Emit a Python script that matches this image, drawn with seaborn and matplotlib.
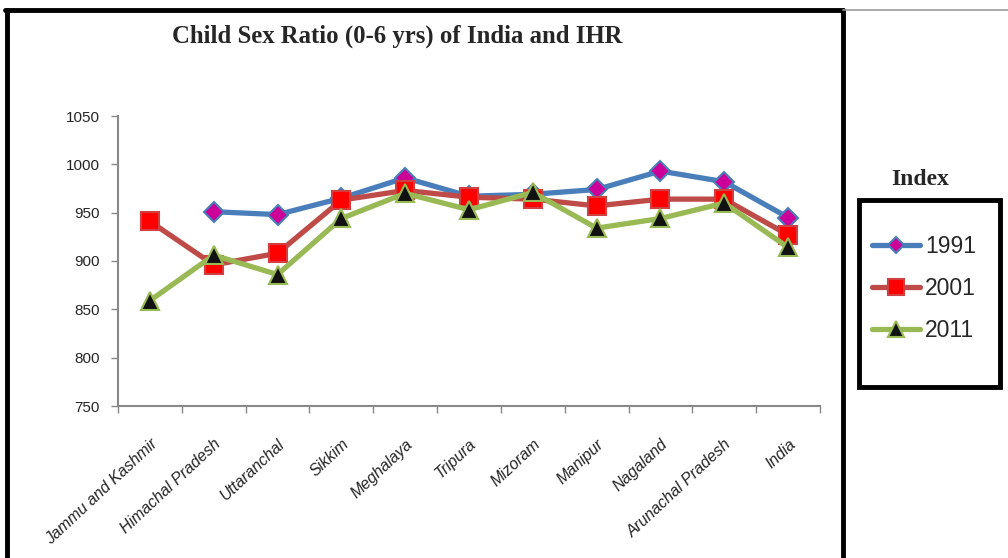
import matplotlib
matplotlib.use("Agg")
import matplotlib.pyplot as plt
from matplotlib.patches import Rectangle
from matplotlib.lines import Line2D
import numpy as np
import pandas as pd
import seaborn as sns

states = ["Jammu and Kashmir", "Himachal Pradesh", "Uttaranchal", "Sikkim",
          "Meghalaya", "Tripura", "Mizoram", "Manipur", "Nagaland",
          "Arunachal Pradesh", "India"]
csr_1991 = [np.nan, 951, 948, 965, 986, 967, 969, 974, 993, 982, 945]
csr_2001 = [941, 896, 908, 963, 973, 966, 964, 957, 964, 964, 927]
csr_2011 = [859, 906, 886, 944, 970, 953, 971, 934, 944, 960, 914]
years = ["1991", "2001", "2011"]
y_ticks = [750, 800, 850, 900, 950, 1000, 1050]

df = pd.DataFrame({
    "pos": list(range(len(states))) * 3,
    "ratio": csr_1991 + csr_2001 + csr_2011,
    "year": [y for y in years for _ in states],
})

sns.set_style("white")
plt.rcParams["font.family"] = ["Liberation Sans", "DejaVu Sans"]

fig = plt.figure(figsize=(10.08, 5.58), dpi=100)
W, H = 1008, 558
ax = fig.add_axes([118 / W, 1 - 406 / H, 702 / W, 290 / H])

styles = {
    "1991": dict(color="#4A7EBB", marker="D", mfc="#CC0099", mec="#4A7EBB", ms=10),
    "2001": dict(color="#BE4B48", marker="s", mfc="#FF0000", mec="#D04040", ms=13),
    "2011": dict(color="#98B954", marker="^", mfc="#111111", mec="#98B954", ms=13),
}

handles = []
for yr in years:
    st = styles[yr]
    sub = df[df["year"] == yr]
    sns.lineplot(data=sub, x="pos", y="ratio", ax=ax, color=st["color"],
                 linewidth=3.8, marker=st["marker"], markersize=st["ms"],
                 markerfacecolor=st["mfc"], markeredgecolor=st["mec"],
                 markeredgewidth=1.5, sort=False, legend=False)
    handles.append(Line2D([0], [0], color=st["color"], linewidth=3.8,
                          marker=st["marker"], markersize=st["ms"] * 0.85,
                          markerfacecolor=st["mfc"], markeredgecolor=st["mec"],
                          markeredgewidth=1.5, label=yr))

ax.set_xlim(-0.5, len(states) - 0.5)
ax.set_ylim(750, 1050)
ax.set_yticks(y_ticks)
ax.set_yticklabels([str(t) for t in y_ticks], fontsize=11)
ax.set_xticks(range(len(states)))
ax.set_xticklabels(states, rotation=43, ha="right", rotation_mode="anchor",
                   fontsize=11.5, fontstyle="italic")
ax.set_xticks(np.arange(-0.5, len(states)), minor=True)
ax.tick_params(axis="x", which="major", length=0, pad=22)
ax.tick_params(axis="x", which="minor", length=5, width=1, color="#888888",
               direction="out", bottom=True)
ax.tick_params(axis="y", length=5, width=1, color="#888888", direction="out",
               left=True, pad=8)
ax.set_xlabel("")
ax.set_ylabel("")
for side in ["top", "right"]:
    ax.spines[side].set_visible(False)
for side in ["left", "bottom"]:
    ax.spines[side].set_color("#888888")
    ax.spines[side].set_linewidth(1.5)

# Title
fig.text(397 / W, 1 - 36 / H, "Child Sex Ratio (0-6 yrs) of India and IHR",
         ha="center", va="center", fontsize=17.8, fontweight="bold",
         family="Liberation Serif")

# Outer chart frame
fig.add_artist(Line2D([7 / W, 7 / W], [0, 1 - 10 / H], color="black", lw=3.5,
                      transform=fig.transFigure))
fig.add_artist(Line2D([5 / W, 843 / W], [1 - 10 / H, 1 - 10 / H], color="black",
                      lw=3.5, transform=fig.transFigure))
fig.add_artist(Line2D([843 / W, 843 / W], [0, 1 - 10 / H], color="black", lw=3.5,
                      transform=fig.transFigure))
fig.add_artist(Line2D([843 / W, 1], [1 - 10 / H, 1 - 10 / H], color="#999999",
                      lw=1.2, transform=fig.transFigure))

# Legend with its title above the box
fig.text(920 / W, 1 - 180 / H, "Index", ha="center", va="center",
         fontsize=17, fontweight="bold", family="Liberation Serif")
fig.add_artist(Rectangle((859 / W, 1 - 387 / H), 141 / W, 187 / H,
                         fill=False, edgecolor="black", lw=3.5,
                         transform=fig.transFigure))
fig.legend(handles=handles, loc="upper left",
           bbox_to_anchor=(863 / W, 1 - 226 / H), frameon=False,
           fontsize=16.5, handlelength=2.1, handletextpad=0.2,
           labelspacing=0.82, borderaxespad=0)

fig.savefig("out.png", dpi=100)
